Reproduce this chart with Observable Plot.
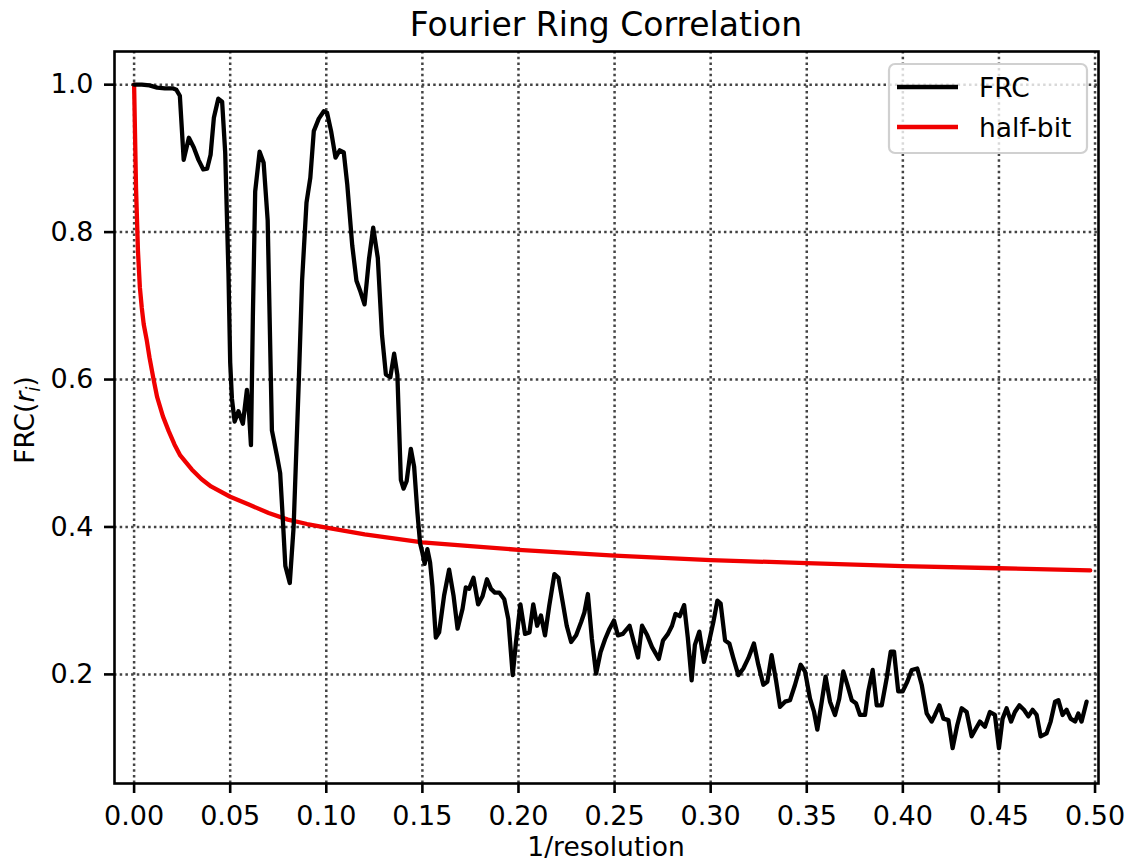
<!DOCTYPE html>
<html>
<head>
<meta charset="utf-8">
<script src="https://cdn.jsdelivr.net/npm/d3@7"></script>
<script src="https://cdn.jsdelivr.net/npm/@observablehq/plot@0.6"></script>
<style>
  html, body { margin: 0; padding: 0; background: #fff; }
  #chart { position: relative; width: 1130px; height: 866px; }
</style>
</head>
<body>
<div id="chart"></div>
<script>
// ---- data ----
const xTicks = [0, 0.05, 0.10, 0.15, 0.20, 0.25, 0.30, 0.35, 0.40, 0.45, 0.50];
const yTicks = [0.2, 0.4, 0.6, 0.8, 1.0];

const frcX = [
  0.000, 0.004, 0.008, 0.012, 0.016, 0.020, 0.022, 0.0238, 0.0258, 0.0285,
  0.031, 0.0335, 0.036, 0.038, 0.0398, 0.0415, 0.0438, 0.0458, 0.0474, 0.0491,
  0.0500, 0.0509, 0.0523, 0.0543, 0.0566, 0.0587, 0.0599, 0.0608, 0.0618, 0.0630,
  0.0653, 0.0674, 0.0695, 0.0717, 0.0743, 0.0760, 0.0775, 0.0787, 0.0810, 0.0830,
  0.0857, 0.0874, 0.0897, 0.0917, 0.0935, 0.0961, 0.0987, 0.1004, 0.1025, 0.1048,
  0.1070, 0.1091, 0.1109, 0.1135, 0.1157, 0.1178, 0.1199, 0.1222, 0.1244, 0.1268,
  0.1290, 0.1310, 0.1333, 0.1353, 0.1370, 0.1388, 0.1402, 0.1418, 0.1440, 0.1457,
  0.1474, 0.1488, 0.1500, 0.1512, 0.1526, 0.1540, 0.1552, 0.1570, 0.1587, 0.1613,
  0.1639, 0.1662, 0.1683, 0.1709, 0.1726, 0.1743, 0.1766, 0.1790, 0.1813, 0.1836,
  0.1857, 0.1877, 0.1900, 0.1926, 0.1947, 0.1970, 0.1987, 0.2010, 0.2034, 0.2057,
  0.2077, 0.2097, 0.2117, 0.2138, 0.2160, 0.2187, 0.2208, 0.2230, 0.2251, 0.2274,
  0.2300, 0.2326, 0.2343, 0.2361, 0.2382, 0.2404, 0.2427, 0.2451, 0.2474, 0.2497,
  0.2517, 0.2543, 0.2578, 0.2600, 0.2622, 0.2643, 0.2670, 0.2695, 0.2730, 0.2752,
  0.2778, 0.2799, 0.2817, 0.2839, 0.2862, 0.2881, 0.2901, 0.2918, 0.2941, 0.2965,
  0.2988, 0.3014, 0.3035, 0.3052, 0.3075, 0.3097, 0.3118, 0.3144, 0.3170, 0.3196,
  0.3225, 0.3248, 0.3274, 0.3295, 0.3317, 0.3340, 0.3361, 0.3387, 0.3413, 0.3439,
  0.3468, 0.3491, 0.3517, 0.3538, 0.3555, 0.3578, 0.3598, 0.3621, 0.3647, 0.3669,
  0.3690, 0.3711, 0.3734, 0.3756, 0.3777, 0.3803, 0.3820, 0.3843, 0.3864, 0.3890,
  0.3916, 0.3937, 0.3954, 0.3976, 0.3999, 0.4023, 0.4046, 0.4075, 0.4098, 0.4124,
  0.4150, 0.4167, 0.4190, 0.4211, 0.4237, 0.4259, 0.4283, 0.4306, 0.4332, 0.4358,
  0.4381, 0.4401, 0.4427, 0.4453, 0.4479, 0.4500, 0.4519, 0.4540, 0.4563, 0.4583,
  0.4606, 0.4630, 0.4653, 0.4675, 0.4696, 0.4717, 0.4748, 0.4769, 0.4792, 0.4809,
  0.4831, 0.4852, 0.4873, 0.4896, 0.4913, 0.4930, 0.4956
];
const frcY = [
  1.000, 1.000, 0.999, 0.996, 0.995, 0.995, 0.993, 0.985, 0.898, 0.928,
  0.915, 0.898, 0.885, 0.886, 0.905, 0.955, 0.981, 0.977, 0.908, 0.744,
  0.623, 0.574, 0.543, 0.557, 0.540, 0.586, 0.550, 0.511, 0.686, 0.855,
  0.909, 0.894, 0.816, 0.531, 0.497, 0.473, 0.405, 0.347, 0.324, 0.400,
  0.598, 0.734, 0.840, 0.874, 0.937, 0.954, 0.964, 0.962, 0.937, 0.901,
  0.911, 0.908, 0.865, 0.782, 0.734, 0.719, 0.702, 0.763, 0.806, 0.765,
  0.660, 0.607, 0.603, 0.635, 0.606, 0.464, 0.452, 0.462, 0.506, 0.482,
  0.420, 0.378, 0.365, 0.350, 0.370, 0.352, 0.320, 0.250, 0.257, 0.307,
  0.342, 0.307, 0.262, 0.289, 0.318, 0.316, 0.331, 0.295, 0.306, 0.329,
  0.316, 0.311, 0.311, 0.302, 0.275, 0.199, 0.244, 0.295, 0.255, 0.257,
  0.295, 0.266, 0.280, 0.253, 0.293, 0.336, 0.331, 0.298, 0.266, 0.244,
  0.253, 0.271, 0.284, 0.309, 0.248, 0.201, 0.230, 0.248, 0.262, 0.273,
  0.253, 0.255, 0.266, 0.244, 0.223, 0.266, 0.253, 0.237, 0.221, 0.246,
  0.255, 0.266, 0.282, 0.279, 0.294, 0.250, 0.192, 0.240, 0.258, 0.217,
  0.240, 0.271, 0.300, 0.296, 0.246, 0.242, 0.222, 0.199, 0.208, 0.222,
  0.242, 0.213, 0.186, 0.190, 0.226, 0.192, 0.156, 0.163, 0.165, 0.186,
  0.213, 0.204, 0.167, 0.149, 0.125, 0.163, 0.197, 0.163, 0.145, 0.167,
  0.204, 0.186, 0.165, 0.161, 0.145, 0.145, 0.177, 0.206, 0.158, 0.158,
  0.195, 0.231, 0.231, 0.177, 0.177, 0.190, 0.206, 0.208, 0.186, 0.147,
  0.136, 0.145, 0.158, 0.140, 0.138, 0.100, 0.131, 0.154, 0.149, 0.116,
  0.127, 0.136, 0.129, 0.149, 0.145, 0.100, 0.140, 0.154, 0.136, 0.149,
  0.158, 0.152, 0.143, 0.152, 0.145, 0.116, 0.120, 0.136, 0.163, 0.165,
  0.145, 0.152, 0.140, 0.136, 0.147, 0.136, 0.163
];

const halfbitX = [
  0.000, 0.001, 0.002, 0.003, 0.004, 0.005, 0.0066, 0.008, 0.010, 0.012,
  0.015, 0.018, 0.021, 0.024, 0.030, 0.035, 0.040, 0.050, 0.060, 0.070,
  0.080, 0.090, 0.100, 0.120, 0.150, 0.175, 0.200, 0.250, 0.300, 0.350,
  0.400, 0.450, 0.4975
];
const halfbitY = [
  1.000, 0.860, 0.775, 0.725, 0.697, 0.675, 0.653, 0.630, 0.602, 0.576,
  0.550, 0.530, 0.512, 0.497, 0.478, 0.465, 0.455, 0.441, 0.430, 0.419,
  0.410, 0.404, 0.399, 0.390, 0.379, 0.374, 0.369, 0.361, 0.355, 0.351,
  0.347, 0.344, 0.341
];

const seriesNames = ["FRC", "half-bit"];
const seriesColors = ["black", "#f00000"];

const titleText = "Fourier Ring Correlation";
const xLabelText = "1/resolution";

// ---- build tables ----
const frc = frcX.map((x, i) => ({x, y: frcY[i]}));
const halfbit = halfbitX.map((x, i) => ({x, y: halfbitY[i]}));

const W = 1130, H = 866;
const mL = 114, mR = 32, mT = 51, mB = 83;
const font = "'DejaVu Sans', sans-serif";
const fs = 27;
const gridStyle = {stroke: "#444", strokeOpacity: 1, strokeWidth: 2.5, strokeDasharray: "2.5,3.2"};

const plot = Plot.plot({
  width: W,
  height: H,
  marginLeft: mL,
  marginRight: mR,
  marginTop: mT,
  marginBottom: mB,
  style: {fontFamily: font, fontSize: fs + "px", background: "white", color: "black", overflow: "visible"},
  x: {domain: [-0.0102, 0.5018]},
  y: {domain: [0.052, 1.045]},
  marks: [
    Plot.gridX(xTicks, gridStyle),
    Plot.gridY(yTicks, gridStyle),
    Plot.line(halfbit, {x: "x", y: "y", stroke: seriesColors[1], strokeWidth: 4.3}),
    Plot.line(frc, {x: "x", y: "y", stroke: seriesColors[0], strokeWidth: 4.3}),
    Plot.frame({stroke: "black", strokeWidth: 2.6}),
    Plot.axisX(xTicks, {tickFormat: d => d.toFixed(2), tickSize: 10, tickPadding: 12, strokeWidth: 2.6, fontSize: fs, label: null}),
    Plot.axisY(yTicks, {tickFormat: d => d.toFixed(1), tickSize: 10, tickPadding: 11, strokeWidth: 2.6, fontSize: fs, label: null})
  ]
});

document.getElementById("chart").append(plot);

const svg = d3.select(plot);
svg.selectAll('g[aria-label="x-axis tick label"], g[aria-label="y-axis tick label"]')
  .attr("font-size", fs).attr("font-family", font);

// ---- title, axis labels and legend as SVG text ----
const cx = mL + (W - mL - mR) / 2;
const cy = mT + (H - mT - mB) / 2;

svg.append("text")
  .attr("x", cx).attr("y", 36)
  .attr("text-anchor", "middle")
  .attr("font-family", font).attr("font-size", 33).attr("fill", "black")
  .text(titleText);

svg.append("text")
  .attr("x", cx).attr("y", 856)
  .attr("text-anchor", "middle")
  .attr("font-family", font).attr("font-size", 26.5).attr("fill", "black")
  .text(xLabelText);

const yl = svg.append("text")
  .attr("transform", `translate(34,${cy + 3}) rotate(-90)`)
  .attr("text-anchor", "middle")
  .attr("font-family", font).attr("font-size", 26.5).attr("fill", "black");
yl.append("tspan").text("FRC(");
yl.append("tspan").attr("font-style", "italic").text("r");
yl.append("tspan").attr("font-style", "italic").attr("font-size", 26.5 * 0.7).attr("dy", 6).text("i");
yl.append("tspan").attr("dy", -6).text(")");

// legend
const lg = svg.append("g").attr("font-family", font).attr("font-size", 26.5).attr("text-anchor", "start");
lg.append("rect")
  .attr("x", 889).attr("y", 64).attr("width", 198).attr("height", 89)
  .attr("rx", 6).attr("fill", "white").attr("fill-opacity", 0.8)
  .attr("stroke", "#d0d0d0").attr("stroke-width", 2.2);
seriesNames.forEach((name, i) => {
  const yy = 87 + i * 40;
  lg.append("line")
    .attr("x1", 897).attr("x2", 958).attr("y1", yy).attr("y2", yy)
    .attr("stroke", seriesColors[i]).attr("stroke-width", 4.3);
  lg.append("text")
    .attr("x", 979).attr("y", yy + 9.5)
    .attr("text-anchor", "start")
    .attr("fill", "black")
    .text(name);
});
</script>
</body>
</html>
